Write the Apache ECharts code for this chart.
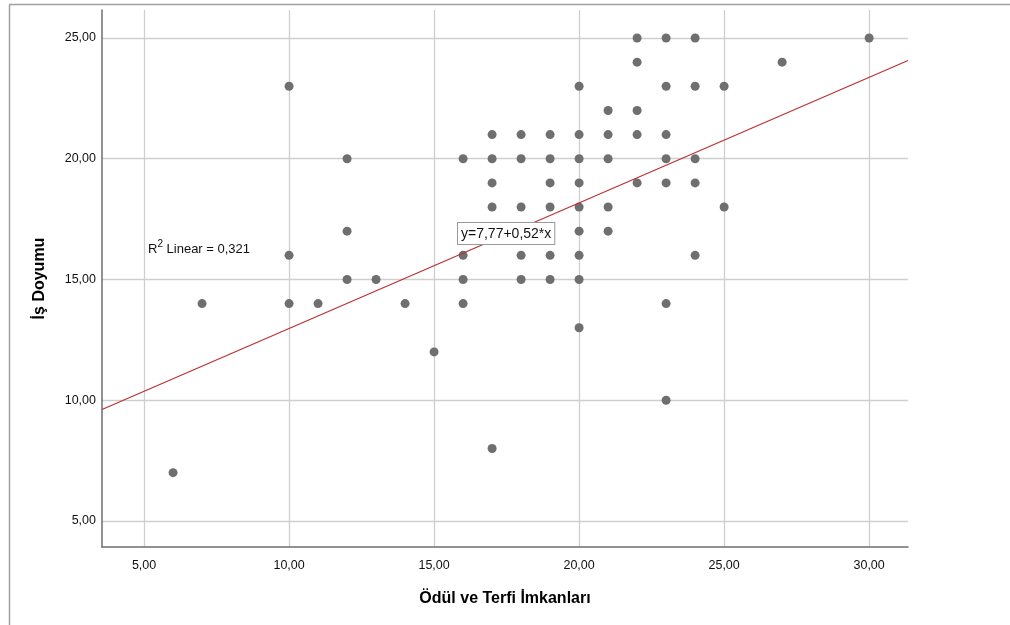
<!DOCTYPE html>
<html>
<head>
<meta charset="utf-8">
<script src="https://cdn.jsdelivr.net/npm/echarts@6/dist/echarts.min.js"></script>
<style>
  html, body { margin: 0; padding: 0; background: #fff; }
  #main { width: 1010px; height: 625px; }
</style>
</head>
<body>
<div id="main"></div>
<script>
// Ödül ve Terfi İmkanları (x) vs İş Doyumu (y)
var odul = [
  6, 7,
  10, 10, 10, 11, 12, 12, 12, 13, 14, 15,
  16, 16, 16, 16,
  17, 17, 17, 17, 17,
  18, 18, 18, 18, 18,
  19, 19, 19, 19, 19, 19,
  20, 20, 20, 20, 20, 20, 20, 20, 20,
  21, 21, 21, 21, 21,
  22, 22, 22, 22, 22,
  23, 23, 23, 23, 23, 23, 23,
  24, 24, 24, 24, 24,
  25, 25, 27, 30
];
var doyum = [
  7, 14,
  23, 16, 14, 14, 20, 17, 15, 15, 14, 12,
  20, 16, 15, 14,
  21, 20, 19, 18, 8,
  21, 20, 18, 16, 15,
  21, 20, 19, 18, 16, 15,
  23, 21, 20, 19, 18, 17, 16, 15, 13,
  22, 21, 20, 18, 17,
  25, 24, 22, 21, 19,
  25, 23, 21, 20, 19, 14, 10,
  25, 23, 20, 19, 16,
  23, 18, 24, 25
];
// regression line y = a + b*x
var fitA = 7.77, fitB = 0.52;
var xRange = [3.55, 31.34];
var yRange = [3.92, 26.16];

var points = odul.map(function(x, i) { return [x, doyum[i]]; });
var fitLine = xRange.map(function(x) { return [x, fitA + fitB * x]; });

function fmt(v) {
  if (Math.abs(v % 5) > 1e-6) return '';
  return v.toFixed(2).replace('.', ',');
}

var myChart = echarts.init(document.getElementById('main'));
var FONT = '"Liberation Sans", Arial, sans-serif';

var option = {
  animation: false,
  backgroundColor: '#fff',
  grid: { left: 102, right: 102, top: 10, bottom: 78, containLabel: false },
  xAxis: {
    type: 'value',
    min: xRange[0],
    max: xRange[1],
    name: 'Ödül ve Terfi İmkanları',
    nameLocation: 'middle',
    nameGap: 44,
    nameTextStyle: { fontFamily: FONT, fontSize: 16, fontWeight: 'bold', color: '#000' },
    axisLine: { show: true, lineStyle: { color: '#6e6e6e', width: 1.5 } },
    axisTick: { show: false },
    axisLabel: { formatter: fmt, showMinLabel: false, showMaxLabel: false,
      fontFamily: FONT, fontSize: 12.5, color: '#111', margin: 12 },
    splitLine: { show: true, showMinLine: false, showMaxLine: false,
      lineStyle: { color: '#cfcfcf', width: 1.3 } }
  },
  yAxis: {
    type: 'value',
    min: yRange[0],
    max: yRange[1],
    name: 'İş Doyumu',
    nameLocation: 'middle',
    nameGap: 54,
    nameTextStyle: { fontFamily: FONT, fontSize: 16, fontWeight: 'bold', color: '#000' },
    axisLine: { show: true, lineStyle: { color: '#6e6e6e', width: 1.5 } },
    axisTick: { show: false },
    axisLabel: { formatter: fmt, showMinLabel: false, showMaxLabel: false,
      fontFamily: FONT, fontSize: 12.5, color: '#111', margin: 6 },
    splitLine: { show: true, showMinLine: false, showMaxLine: false,
      lineStyle: { color: '#cfcfcf', width: 1.3 } }
  },
  series: [{
    type: 'line',
    data: fitLine,
    symbol: 'none',
    lineStyle: { color: '#b83232', width: 1.2 },
    z: 3
  }, {
    type: 'scatter',
    data: points,
    symbolSize: 9,
    itemStyle: { color: '#6f6f6f', opacity: 1 },
    z: 2
  }],
  graphic: [
    // outer frame (left and top edges)
    { type: 'line', shape: { x1: 9.5, y1: 4.5, x2: 9.5, y2: 625 },
      style: { stroke: '#a0a0a0', lineWidth: 1.5 }, silent: true },
    { type: 'line', shape: { x1: 9, y1: 4.5, x2: 1010, y2: 4.5 },
      style: { stroke: '#a0a0a0', lineWidth: 1.5 }, silent: true },
    // R² label
    { type: 'text', left: 148, top: 239, z: 10,
      style: {
        text: '{a|R}{s|2}{a| Linear = 0,321}',
        rich: {
          a: { fontFamily: FONT, fontSize: 13, fill: '#111', lineHeight: 17, verticalAlign: 'bottom' },
          s: { fontFamily: FONT, fontSize: 10, fill: '#111', lineHeight: 17, verticalAlign: 'top' }
        }
      } },
    // equation box
    { type: 'text', left: 457, top: 222, z: 10,
      style: {
        text: 'y=7,77+0,52*x',
        fontFamily: FONT, fontSize: 14, fill: '#111',
        backgroundColor: '#fff', borderColor: '#9a9a9a', borderWidth: 1,
        padding: [4, 3, 3, 3]
      } }
  ]
};

myChart.setOption(option);
</script>
</body>
</html>
